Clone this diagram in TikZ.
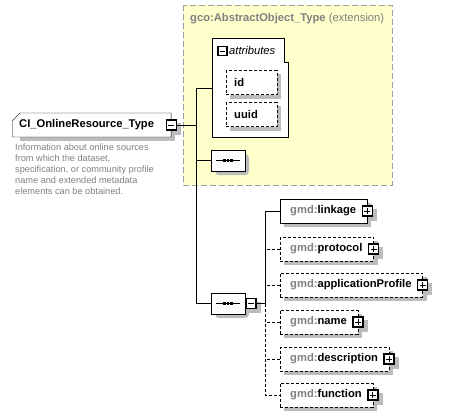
\documentclass[tikz,border=0pt]{standalone}
\usepackage{fontspec}
\setmainfont{Liberation Sans}
\usetikzlibrary{shapes.misc,calc}

\definecolor{extyellow}{RGB}{255,255,204}
\definecolor{extline}{RGB}{160,160,160}
\definecolor{shadegray}{RGB}{188,188,188}
\definecolor{prefixgray}{RGB}{128,128,128}

\pgfdeclarelayer{back}
\pgfdeclarelayer{shadows}
\pgfsetlayers{back,shadows,main}

\newcommand{\gmd}[1]{\kern10pt\textcolor{prefixgray}{gmd:}#1\kern11pt}

\tikzset{
  optional/.style={dash pattern=on 3pt off 2pt},
  boldtext/.style={font=\fontsize{11.2}{13}\selectfont\bfseries},
  elembox/.style={draw, fill=white, boldtext, minimum height=24pt, inner sep=0pt, anchor=west},
  attrbox/.style={elembox, optional, text width=35pt, inner xsep=8pt, align=left},
  ctype/.style={elembox, chamfered rectangle, chamfered rectangle corners=north west, chamfered rectangle sep=4pt},
  pmbox/.style={draw, fill=white, line width=1.4pt, minimum size=10pt, inner sep=0pt},
  plusbox/.style={pmbox, path picture={\draw[line width=1pt] ([xshift=2pt]path picture bounding box.west) -- ([xshift=-2pt]path picture bounding box.east) ([yshift=-2pt]path picture bounding box.north) -- ([yshift=2pt]path picture bounding box.south);}},
  minusbox/.style={pmbox, path picture={\draw[line width=1pt] ([xshift=2pt]path picture bounding box.west) -- ([xshift=-2pt]path picture bounding box.east);}},
  seqbox/.style={chamfered rectangle, chamfered rectangle xsep=5pt, chamfered rectangle ysep=5pt, draw, fill=white, minimum width=34pt, minimum height=21pt, inner sep=0pt,
    path picture={\draw[line width=0.9pt] ([xshift=5pt]path picture bounding box.west) -- ([xshift=-5pt]path picture bounding box.east);
      \foreach \d in {-3.5,0,3.5} \fill[black] ([xshift=\d pt]path picture bounding box.center) ++(-1.3,-1.3) rectangle ++(2.6,2.6);}},
}

\begin{document}
\begin{tikzpicture}[x=1pt, y=-1pt, line width=0.9pt]
\useasboundingbox (0,0) rectangle (452,418);
% extension group
\begin{pgfonlayer}{back}
\draw[extline, fill=extyellow, dash pattern=on 6pt off 3pt] (183,5) rectangle (392,185);
\draw[fill=white] (212,38) -- (284,38) -- (284,62) -- (288,62) -- (288,137) -- (212,137) -- cycle;
\end{pgfonlayer}
\node[anchor=west, inner sep=0pt, text=prefixgray, font=\fontsize{11.2}{13}\selectfont] (exttitle) at (190,19) {\textbf{gco:AbstractObject\_Type} (extension)};
% attributes
\coordinate (attrs) at (212,88);
\node[minusbox, minimum size=9pt] (attrpm) at (222.5,51) {};
\node[anchor=west, inner sep=0pt, font=\fontsize{11.2}{13}\selectfont\itshape] (attrlabel) at (229,50) {attributes};
\node[attrbox] (id) at (226,82.5) {id};
\node[attrbox] (uuid) at (226,114.5) {uuid};
\node[seqbox] (seqone) at (228,160.5) {};
% complex type
\node[ctype] (ciort) at (12,125) {\kern3pt CI\_OnlineResource\_Type\kern13pt};
\node[minusbox] (ciortpm) at (ciort.east) {};
\node[anchor=north west, align=left, inner sep=0pt, text=prefixgray, font=\fontsize{9.2}{11}\selectfont] (ciortdoc) at (15,144)
  {Information about online sources\\from which the dataset,\\specification, or community profile\\name and extended metadata\\elements can be obtained.};
% sequence with children
\node[seqbox] (seqtwo) at (228,303.5) {};
\node[minusbox, anchor=west] (seqtwopm) at (seqtwo.east) {};
\node[elembox] (linkage) at (280,211) {\gmd{linkage}};
\node[elembox, optional] (protocol) at (280,249) {\gmd{protocol}};
\node[elembox, optional] (appprofile) at (280,285) {\gmd{applicationProfile}};
\node[elembox, optional] (name) at (280,322) {\gmd{name}};
\node[elembox, optional] (descr) at (280,359) {\gmd{description}};
\node[elembox, optional] (function) at (280,395) {\gmd{function}};
\foreach \nd in {linkage,protocol,appprofile,name,descr,function}
  \node[plusbox] (\nd pm) at (\nd.east) {};
% shadows
\begin{pgfonlayer}{shadows}
\foreach \nd in {id,uuid,ciort,ciortpm,seqtwopm,linkage,protocol,appprofile,name,descr,function,
    linkagepm,protocolpm,appprofilepm,namepm,descrpm,functionpm}
  \path[fill=shadegray] ($(\nd.north west)+(4,4)$) rectangle ($(\nd.south east)+(4,4)$);
\foreach \nd in {seqone,seqtwo}
  \path[fill=shadegray, rounded corners=4pt] ($(\nd.north west)+(4,4)$) rectangle ($(\nd.south east)+(4,4)$);
\end{pgfonlayer}
% connectors
\coordinate (trunk) at (196,0);
\draw (ciortpm.east) -- (ciortpm.east -| trunk);
\draw (attrs) -| (trunk |- seqtwo.west) -- (seqtwo.west);
\draw (seqone.west) -- (seqone.west -| trunk);
\coordinate (fork) at (265,0);
\draw (seqtwopm.east) -- (seqtwopm.east -| fork);
\draw (linkage.west) -| (fork |- seqtwopm.east);
\draw[optional] (seqtwopm.east -| fork) |- (function.west);
\foreach \nd in {protocol,appprofile,name,descr}
  \draw[optional] (\nd.west) -- (\nd.west -| fork);
\end{tikzpicture}
\end{document}
